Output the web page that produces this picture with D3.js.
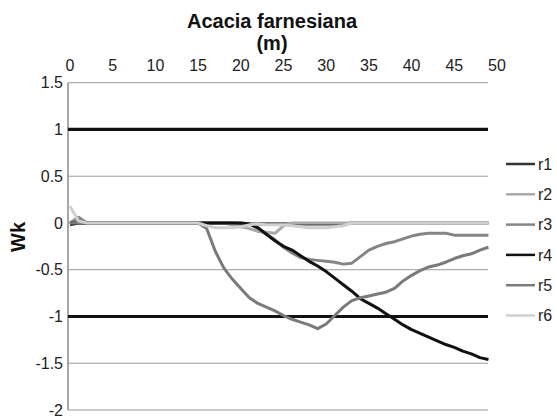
<!DOCTYPE html>
<html><head><meta charset="utf-8">
<script src="https://cdn.jsdelivr.net/npm/d3@7"></script>
<style>body{margin:0;background:#fff}svg{display:block}text{font-family:"Liberation Sans",Arial,sans-serif}</style>
</head><body>
<svg id="c" width="557" height="418"></svg>
<script>
const xs = d3.range(0, 50);
const r1 = [-0.02,0,0,0,0,0,0,0,0,0,0,0,0,0,0,0,0,0,0,0,-0.01,-0.01,-0.01,-0.01,-0.01,-0.01,-0.01,-0.01,-0.01,-0.01,-0.01,-0.01,-0.01,0,0,0,0,0,0,0,0,0,0,0,0,0,0,0,0,0];
const r2 = [0,0.02,0,0,0,0,0,0,0,0,0,0,0,0,0,0,0,0,0,-0.02,-0.04,-0.06,-0.09,-0.1,-0.11,-0.03,0,0,0,0,0,0,0,0,0,0,0,0,0,0,0,0,0,0,0,0,0,0,0,0];
const r3 = [0,0.06,0,0,0,0,0,0,0,0,0,0,0,0,0,0,0,0,0,0,0,-0.01,-0.06,-0.12,-0.18,-0.26,-0.32,-0.37,-0.39,-0.4,-0.41,-0.42,-0.44,-0.43,-0.36,-0.29,-0.25,-0.22,-0.2,-0.17,-0.14,-0.12,-0.11,-0.11,-0.11,-0.13,-0.13,-0.13,-0.13,-0.13];
const r4 = [0,0,0,0,0,0,0,0,0,0,0,0,0,0,0,0,0,0,0,0,0,-0.01,-0.05,-0.12,-0.19,-0.25,-0.29,-0.35,-0.41,-0.46,-0.52,-0.59,-0.66,-0.73,-0.81,-0.86,-0.91,-0.97,-1.03,-1.09,-1.14,-1.18,-1.22,-1.26,-1.3,-1.33,-1.37,-1.4,-1.44,-1.46];
const r5 = [0,0,0,0,0,0,0,0,0,0,0,0,0,0,0,0,-0.06,-0.3,-0.48,-0.6,-0.7,-0.8,-0.86,-0.9,-0.94,-0.99,-1.03,-1.06,-1.09,-1.13,-1.08,-0.99,-0.9,-0.83,-0.8,-0.78,-0.76,-0.74,-0.7,-0.62,-0.56,-0.51,-0.47,-0.45,-0.42,-0.38,-0.35,-0.33,-0.29,-0.26];
const r6 = [0.18,0.02,0,0,0,0,0,0,0,0,0,0,0,0,0,0,-0.03,-0.05,-0.05,-0.05,-0.04,-0.02,-0.01,-0.02,-0.02,-0.02,-0.03,-0.04,-0.05,-0.05,-0.05,-0.04,-0.03,0,0,0,0,0,0,0,0,0,0,0,0,0,0,0,0,0];
const seriesNames = ["r1","r2","r3","r4","r5","r6"];
const seriesValues = [r1,r2,r3,r4,r5,r6];
const seriesColors = ["#333333","#a9a9a9","#858585","#111111","#7a7a7a","#cfcfcf"];
const xTicks = [0,5,10,15,20,25,30,35,40,45,50];
const yTicks = [-2,-1.5,-1,-0.5,0,0.5,1,1.5];
const yTickLabels = ["-2","-1.5","-1","-0.5","0","0.5","1","1.5"];
const refLines = [1,-1];

const svg = d3.select("#c");
const x = d3.scaleLinear().domain([0,50]).range([70,497]);
const y = d3.scaleLinear().domain([-2,1.5]).range([410,82.7]);
const left = 68, right = 488;

// gridlines
svg.append("g").selectAll("line").data(yTicks).join("line")
  .attr("x1",left).attr("x2",right).attr("y1",d=>y(d)).attr("y2",d=>y(d))
  .attr("stroke","#9a9a9a").attr("stroke-width",1);
// y axis line
svg.append("line").attr("x1",left).attr("x2",left).attr("y1",y(1.5)).attr("y2",y(-2))
  .attr("stroke","#8a8a8a").attr("stroke-width",1.5);
// y tick labels
svg.append("g").selectAll("text").data(yTicks).join("text")
  .attr("x",63).attr("y",d=>y(d)).attr("dy","0.36em").attr("text-anchor","end")
  .attr("font-size",16).attr("fill","#222").text((d,i)=>yTickLabels[i]);
// x tick labels (top)
svg.append("g").selectAll("text").data(xTicks).join("text")
  .attr("x",d=>x(d)).attr("y",70.5).attr("text-anchor","middle")
  .attr("font-size",16).attr("fill","#222").text(d=>d);
// reference lines
svg.append("g").selectAll("line").data(refLines).join("line")
  .attr("x1",left).attr("x2",right).attr("y1",d=>y(d)).attr("y2",d=>y(d))
  .attr("stroke","#111").attr("stroke-width",3.2);
// series
const line = d3.line().x((d,i)=>x(xs[i])).y(d=>y(d));
svg.append("g").selectAll("path").data(seriesValues).join("path")
  .attr("d",d=>line(d)).attr("fill","none")
  .attr("stroke",(d,i)=>seriesColors[i]).attr("stroke-width",3)
  .attr("stroke-linejoin","round");
// titles
svg.append("text").attr("x",272).attr("y",28).attr("text-anchor","middle")
  .attr("font-size",20).attr("font-weight","bold").attr("fill","#111").text("Acacia farnesiana");
svg.append("text").attr("x",272).attr("y",49.5).attr("text-anchor","middle")
  .attr("font-size",20).attr("font-weight","bold").attr("fill","#111").text("(m)");
svg.append("text").attr("transform","translate(25,237) rotate(-90)").attr("text-anchor","middle")
  .attr("font-size",20).attr("font-weight","bold").attr("fill","#111").text("Wk");
// legend
const lg = svg.append("g").selectAll("g").data(seriesNames).join("g")
  .attr("transform",(d,i)=>`translate(506,${164+i*30.3})`);
lg.append("line").attr("x1",0).attr("x2",29).attr("stroke",(d,i)=>seriesColors[i]).attr("stroke-width",2.5);
lg.append("text").attr("x",32).attr("dy","0.36em").attr("font-size",16).attr("fill","#222").text(d=>d);
</script>
</body></html>
